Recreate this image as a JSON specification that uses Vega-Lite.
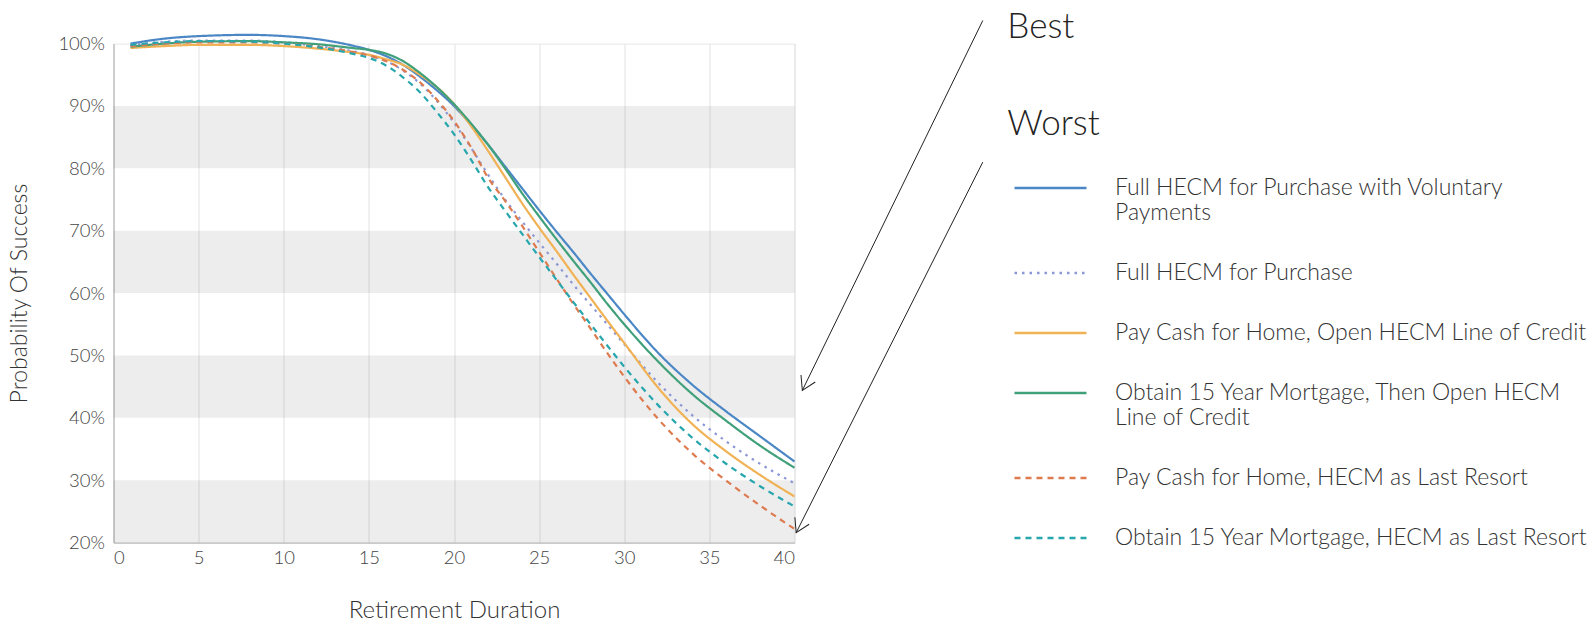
{
  "$schema": "https://vega.github.io/schema/vega-lite/v6.json",
  "width": 681,
  "height": 499,
  "autosize": {"type": "none"},
  "padding": {"left": 113.5, "top": 43.6, "right": 794.5, "bottom": 84.4},
  "background": "white",
  "config": {
    "font": "Lato",
    "view": {"stroke": "#e6e6e6", "strokeWidth": 1},
    "legend": {
      "orient": "none",
      "legendX": 899.5,
      "legendY": 107,
      "title": null,
      "labelFont": "Lato",
      "labelFontSize": 23,
      "labelFontWeight": 300,
      "labelColor": "#333333",
      "labelLimit": 600,
      "labelOffset": 27,
      "symbolType": "stroke",
      "symbolSize": 5184,
      "symbolStrokeWidth": 2.5,
      "rowPadding": 10
    }
  },
  "datasets": {
    "bands": [
      {"lo": 20, "hi": 30},
      {"lo": 40, "hi": 50},
      {"lo": 60, "hi": 70},
      {"lo": 80, "hi": 90}
    ],
    "curves": [
      {"s": "Full HECM for Purchase with Voluntary Payments", "x": 1, "v": 100.0},
      {"s": "Full HECM for Purchase with Voluntary Payments", "x": 3, "v": 100.8},
      {"s": "Full HECM for Purchase with Voluntary Payments", "x": 5, "v": 101.2},
      {"s": "Full HECM for Purchase with Voluntary Payments", "x": 8, "v": 101.4},
      {"s": "Full HECM for Purchase with Voluntary Payments", "x": 10, "v": 101.2},
      {"s": "Full HECM for Purchase with Voluntary Payments", "x": 12, "v": 100.7},
      {"s": "Full HECM for Purchase with Voluntary Payments", "x": 14, "v": 99.7},
      {"s": "Full HECM for Purchase with Voluntary Payments", "x": 15, "v": 99.0},
      {"s": "Full HECM for Purchase with Voluntary Payments", "x": 16, "v": 98.0},
      {"s": "Full HECM for Purchase with Voluntary Payments", "x": 17, "v": 96.6},
      {"s": "Full HECM for Purchase with Voluntary Payments", "x": 18, "v": 94.7},
      {"s": "Full HECM for Purchase with Voluntary Payments", "x": 19, "v": 92.5},
      {"s": "Full HECM for Purchase with Voluntary Payments", "x": 20, "v": 90.0},
      {"s": "Full HECM for Purchase with Voluntary Payments", "x": 21, "v": 87.0},
      {"s": "Full HECM for Purchase with Voluntary Payments", "x": 22, "v": 83.8},
      {"s": "Full HECM for Purchase with Voluntary Payments", "x": 23, "v": 80.3},
      {"s": "Full HECM for Purchase with Voluntary Payments", "x": 24, "v": 76.8},
      {"s": "Full HECM for Purchase with Voluntary Payments", "x": 25, "v": 73.3},
      {"s": "Full HECM for Purchase with Voluntary Payments", "x": 26, "v": 69.9},
      {"s": "Full HECM for Purchase with Voluntary Payments", "x": 27, "v": 66.6},
      {"s": "Full HECM for Purchase with Voluntary Payments", "x": 28, "v": 63.2},
      {"s": "Full HECM for Purchase with Voluntary Payments", "x": 29, "v": 59.9},
      {"s": "Full HECM for Purchase with Voluntary Payments", "x": 30, "v": 56.6},
      {"s": "Full HECM for Purchase with Voluntary Payments", "x": 32, "v": 50.4},
      {"s": "Full HECM for Purchase with Voluntary Payments", "x": 34, "v": 45.3},
      {"s": "Full HECM for Purchase with Voluntary Payments", "x": 36, "v": 41.0},
      {"s": "Full HECM for Purchase with Voluntary Payments", "x": 38, "v": 37.0},
      {"s": "Full HECM for Purchase with Voluntary Payments", "x": 40, "v": 33.0},

      {"s": "Full HECM for Purchase", "x": 1, "v": 99.8},
      {"s": "Full HECM for Purchase", "x": 3, "v": 100.3},
      {"s": "Full HECM for Purchase", "x": 5, "v": 100.5},
      {"s": "Full HECM for Purchase", "x": 8, "v": 100.5},
      {"s": "Full HECM for Purchase", "x": 10, "v": 100.2},
      {"s": "Full HECM for Purchase", "x": 12, "v": 99.6},
      {"s": "Full HECM for Purchase", "x": 14, "v": 98.8},
      {"s": "Full HECM for Purchase", "x": 15, "v": 98.2},
      {"s": "Full HECM for Purchase", "x": 16, "v": 97.2},
      {"s": "Full HECM for Purchase", "x": 17, "v": 95.7},
      {"s": "Full HECM for Purchase", "x": 18, "v": 93.6},
      {"s": "Full HECM for Purchase", "x": 19, "v": 90.8},
      {"s": "Full HECM for Purchase", "x": 20, "v": 87.3},
      {"s": "Full HECM for Purchase", "x": 21, "v": 83.3},
      {"s": "Full HECM for Purchase", "x": 22, "v": 79.0},
      {"s": "Full HECM for Purchase", "x": 23, "v": 75.0},
      {"s": "Full HECM for Purchase", "x": 24, "v": 71.5},
      {"s": "Full HECM for Purchase", "x": 25, "v": 68.1},
      {"s": "Full HECM for Purchase", "x": 26, "v": 64.8},
      {"s": "Full HECM for Purchase", "x": 27, "v": 61.4},
      {"s": "Full HECM for Purchase", "x": 28, "v": 58.2},
      {"s": "Full HECM for Purchase", "x": 29, "v": 55.0},
      {"s": "Full HECM for Purchase", "x": 30, "v": 51.8},
      {"s": "Full HECM for Purchase", "x": 32, "v": 45.6},
      {"s": "Full HECM for Purchase", "x": 34, "v": 40.4},
      {"s": "Full HECM for Purchase", "x": 36, "v": 36.2},
      {"s": "Full HECM for Purchase", "x": 38, "v": 32.6},
      {"s": "Full HECM for Purchase", "x": 40, "v": 29.5},

      {"s": "Pay Cash for Home, Open HECM Line of Credit", "x": 1, "v": 99.3},
      {"s": "Pay Cash for Home, Open HECM Line of Credit", "x": 3, "v": 99.6},
      {"s": "Pay Cash for Home, Open HECM Line of Credit", "x": 5, "v": 99.8},
      {"s": "Pay Cash for Home, Open HECM Line of Credit", "x": 8, "v": 99.8},
      {"s": "Pay Cash for Home, Open HECM Line of Credit", "x": 10, "v": 99.6},
      {"s": "Pay Cash for Home, Open HECM Line of Credit", "x": 12, "v": 99.2},
      {"s": "Pay Cash for Home, Open HECM Line of Credit", "x": 14, "v": 98.6},
      {"s": "Pay Cash for Home, Open HECM Line of Credit", "x": 15, "v": 98.2},
      {"s": "Pay Cash for Home, Open HECM Line of Credit", "x": 16, "v": 97.5},
      {"s": "Pay Cash for Home, Open HECM Line of Credit", "x": 17, "v": 96.6},
      {"s": "Pay Cash for Home, Open HECM Line of Credit", "x": 18, "v": 95.0},
      {"s": "Pay Cash for Home, Open HECM Line of Credit", "x": 19, "v": 93.0},
      {"s": "Pay Cash for Home, Open HECM Line of Credit", "x": 20, "v": 90.3},
      {"s": "Pay Cash for Home, Open HECM Line of Credit", "x": 21, "v": 86.8},
      {"s": "Pay Cash for Home, Open HECM Line of Credit", "x": 22, "v": 82.8},
      {"s": "Pay Cash for Home, Open HECM Line of Credit", "x": 23, "v": 78.6},
      {"s": "Pay Cash for Home, Open HECM Line of Credit", "x": 24, "v": 74.4},
      {"s": "Pay Cash for Home, Open HECM Line of Credit", "x": 25, "v": 70.5},
      {"s": "Pay Cash for Home, Open HECM Line of Credit", "x": 26, "v": 66.8},
      {"s": "Pay Cash for Home, Open HECM Line of Credit", "x": 27, "v": 63.0},
      {"s": "Pay Cash for Home, Open HECM Line of Credit", "x": 28, "v": 59.3},
      {"s": "Pay Cash for Home, Open HECM Line of Credit", "x": 29, "v": 55.6},
      {"s": "Pay Cash for Home, Open HECM Line of Credit", "x": 30, "v": 52.0},
      {"s": "Pay Cash for Home, Open HECM Line of Credit", "x": 32, "v": 44.8},
      {"s": "Pay Cash for Home, Open HECM Line of Credit", "x": 34, "v": 39.0},
      {"s": "Pay Cash for Home, Open HECM Line of Credit", "x": 36, "v": 34.6},
      {"s": "Pay Cash for Home, Open HECM Line of Credit", "x": 38, "v": 30.8},
      {"s": "Pay Cash for Home, Open HECM Line of Credit", "x": 40, "v": 27.4},

      {"s": "Obtain 15 Year Mortgage, Then Open HECM Line of Credit", "x": 1, "v": 99.5},
      {"s": "Obtain 15 Year Mortgage, Then Open HECM Line of Credit", "x": 3, "v": 100.0},
      {"s": "Obtain 15 Year Mortgage, Then Open HECM Line of Credit", "x": 5, "v": 100.3},
      {"s": "Obtain 15 Year Mortgage, Then Open HECM Line of Credit", "x": 8, "v": 100.4},
      {"s": "Obtain 15 Year Mortgage, Then Open HECM Line of Credit", "x": 10, "v": 100.2},
      {"s": "Obtain 15 Year Mortgage, Then Open HECM Line of Credit", "x": 12, "v": 99.9},
      {"s": "Obtain 15 Year Mortgage, Then Open HECM Line of Credit", "x": 14, "v": 99.3},
      {"s": "Obtain 15 Year Mortgage, Then Open HECM Line of Credit", "x": 15, "v": 99.0},
      {"s": "Obtain 15 Year Mortgage, Then Open HECM Line of Credit", "x": 16, "v": 98.4},
      {"s": "Obtain 15 Year Mortgage, Then Open HECM Line of Credit", "x": 17, "v": 97.2},
      {"s": "Obtain 15 Year Mortgage, Then Open HECM Line of Credit", "x": 18, "v": 95.3},
      {"s": "Obtain 15 Year Mortgage, Then Open HECM Line of Credit", "x": 19, "v": 93.0},
      {"s": "Obtain 15 Year Mortgage, Then Open HECM Line of Credit", "x": 20, "v": 90.3},
      {"s": "Obtain 15 Year Mortgage, Then Open HECM Line of Credit", "x": 21, "v": 87.2},
      {"s": "Obtain 15 Year Mortgage, Then Open HECM Line of Credit", "x": 22, "v": 83.8},
      {"s": "Obtain 15 Year Mortgage, Then Open HECM Line of Credit", "x": 23, "v": 80.0},
      {"s": "Obtain 15 Year Mortgage, Then Open HECM Line of Credit", "x": 24, "v": 76.0},
      {"s": "Obtain 15 Year Mortgage, Then Open HECM Line of Credit", "x": 25, "v": 72.3},
      {"s": "Obtain 15 Year Mortgage, Then Open HECM Line of Credit", "x": 26, "v": 68.7},
      {"s": "Obtain 15 Year Mortgage, Then Open HECM Line of Credit", "x": 27, "v": 65.2},
      {"s": "Obtain 15 Year Mortgage, Then Open HECM Line of Credit", "x": 28, "v": 61.8},
      {"s": "Obtain 15 Year Mortgage, Then Open HECM Line of Credit", "x": 29, "v": 58.3},
      {"s": "Obtain 15 Year Mortgage, Then Open HECM Line of Credit", "x": 30, "v": 55.0},
      {"s": "Obtain 15 Year Mortgage, Then Open HECM Line of Credit", "x": 32, "v": 49.0},
      {"s": "Obtain 15 Year Mortgage, Then Open HECM Line of Credit", "x": 34, "v": 43.8},
      {"s": "Obtain 15 Year Mortgage, Then Open HECM Line of Credit", "x": 36, "v": 39.5},
      {"s": "Obtain 15 Year Mortgage, Then Open HECM Line of Credit", "x": 38, "v": 35.5},
      {"s": "Obtain 15 Year Mortgage, Then Open HECM Line of Credit", "x": 40, "v": 32.0},

      {"s": "Pay Cash for Home, HECM as Last Resort", "x": 1, "v": 99.6},
      {"s": "Pay Cash for Home, HECM as Last Resort", "x": 3, "v": 100.0},
      {"s": "Pay Cash for Home, HECM as Last Resort", "x": 5, "v": 100.2},
      {"s": "Pay Cash for Home, HECM as Last Resort", "x": 8, "v": 100.2},
      {"s": "Pay Cash for Home, HECM as Last Resort", "x": 10, "v": 100.0},
      {"s": "Pay Cash for Home, HECM as Last Resort", "x": 12, "v": 99.5},
      {"s": "Pay Cash for Home, HECM as Last Resort", "x": 14, "v": 98.7},
      {"s": "Pay Cash for Home, HECM as Last Resort", "x": 15, "v": 98.1},
      {"s": "Pay Cash for Home, HECM as Last Resort", "x": 16, "v": 97.2},
      {"s": "Pay Cash for Home, HECM as Last Resort", "x": 17, "v": 95.8},
      {"s": "Pay Cash for Home, HECM as Last Resort", "x": 18, "v": 93.8},
      {"s": "Pay Cash for Home, HECM as Last Resort", "x": 19, "v": 91.0},
      {"s": "Pay Cash for Home, HECM as Last Resort", "x": 20, "v": 87.6},
      {"s": "Pay Cash for Home, HECM as Last Resort", "x": 21, "v": 83.4},
      {"s": "Pay Cash for Home, HECM as Last Resort", "x": 22, "v": 78.5},
      {"s": "Pay Cash for Home, HECM as Last Resort", "x": 23, "v": 74.8},
      {"s": "Pay Cash for Home, HECM as Last Resort", "x": 24, "v": 70.8},
      {"s": "Pay Cash for Home, HECM as Last Resort", "x": 25, "v": 66.6},
      {"s": "Pay Cash for Home, HECM as Last Resort", "x": 26, "v": 62.4},
      {"s": "Pay Cash for Home, HECM as Last Resort", "x": 27, "v": 58.3},
      {"s": "Pay Cash for Home, HECM as Last Resort", "x": 28, "v": 54.4},
      {"s": "Pay Cash for Home, HECM as Last Resort", "x": 29, "v": 50.4},
      {"s": "Pay Cash for Home, HECM as Last Resort", "x": 30, "v": 46.6},
      {"s": "Pay Cash for Home, HECM as Last Resort", "x": 32, "v": 39.8},
      {"s": "Pay Cash for Home, HECM as Last Resort", "x": 34, "v": 34.3},
      {"s": "Pay Cash for Home, HECM as Last Resort", "x": 36, "v": 29.9},
      {"s": "Pay Cash for Home, HECM as Last Resort", "x": 38, "v": 25.9},
      {"s": "Pay Cash for Home, HECM as Last Resort", "x": 40, "v": 22.2},

      {"s": "Obtain 15 Year Mortgage, HECM as Last Resort", "x": 1, "v": 99.8},
      {"s": "Obtain 15 Year Mortgage, HECM as Last Resort", "x": 3, "v": 100.2},
      {"s": "Obtain 15 Year Mortgage, HECM as Last Resort", "x": 5, "v": 100.4},
      {"s": "Obtain 15 Year Mortgage, HECM as Last Resort", "x": 8, "v": 100.3},
      {"s": "Obtain 15 Year Mortgage, HECM as Last Resort", "x": 10, "v": 100.0},
      {"s": "Obtain 15 Year Mortgage, HECM as Last Resort", "x": 12, "v": 99.4},
      {"s": "Obtain 15 Year Mortgage, HECM as Last Resort", "x": 14, "v": 98.4},
      {"s": "Obtain 15 Year Mortgage, HECM as Last Resort", "x": 15, "v": 97.7},
      {"s": "Obtain 15 Year Mortgage, HECM as Last Resort", "x": 16, "v": 96.5},
      {"s": "Obtain 15 Year Mortgage, HECM as Last Resort", "x": 17, "v": 94.6},
      {"s": "Obtain 15 Year Mortgage, HECM as Last Resort", "x": 18, "v": 92.2},
      {"s": "Obtain 15 Year Mortgage, HECM as Last Resort", "x": 19, "v": 89.0},
      {"s": "Obtain 15 Year Mortgage, HECM as Last Resort", "x": 20, "v": 85.5},
      {"s": "Obtain 15 Year Mortgage, HECM as Last Resort", "x": 21, "v": 81.4},
      {"s": "Obtain 15 Year Mortgage, HECM as Last Resort", "x": 22, "v": 77.0},
      {"s": "Obtain 15 Year Mortgage, HECM as Last Resort", "x": 23, "v": 73.2},
      {"s": "Obtain 15 Year Mortgage, HECM as Last Resort", "x": 24, "v": 69.5},
      {"s": "Obtain 15 Year Mortgage, HECM as Last Resort", "x": 25, "v": 65.8},
      {"s": "Obtain 15 Year Mortgage, HECM as Last Resort", "x": 26, "v": 62.2},
      {"s": "Obtain 15 Year Mortgage, HECM as Last Resort", "x": 27, "v": 58.6},
      {"s": "Obtain 15 Year Mortgage, HECM as Last Resort", "x": 28, "v": 55.1},
      {"s": "Obtain 15 Year Mortgage, HECM as Last Resort", "x": 29, "v": 51.6},
      {"s": "Obtain 15 Year Mortgage, HECM as Last Resort", "x": 30, "v": 48.2},
      {"s": "Obtain 15 Year Mortgage, HECM as Last Resort", "x": 32, "v": 42.0},
      {"s": "Obtain 15 Year Mortgage, HECM as Last Resort", "x": 34, "v": 36.8},
      {"s": "Obtain 15 Year Mortgage, HECM as Last Resort", "x": 36, "v": 32.6},
      {"s": "Obtain 15 Year Mortgage, HECM as Last Resort", "x": 38, "v": 29.0},
      {"s": "Obtain 15 Year Mortgage, HECM as Last Resort", "x": 40, "v": 25.8}
    ],
    "labels": [
      {"label": "Best", "x": 52.5, "y": 100.9},
      {"label": "Worst", "x": 52.5, "y": 85.4}
    ],
    "arrows": [
      {"x": 51.06, "y": 103.7, "x2": 40.46, "y2": 44.4},
      {"x": 51.06, "y": 81.0, "x2": 40.1, "y2": 21.6}
    ]
  },
  "layer": [
    {
      "data": {"name": "bands"},
      "mark": {"type": "rect", "fill": "#000000", "fillOpacity": 0.07},
      "encoding": {
        "x": {"datum": 0, "type": "quantitative", "scale": {"domain": [0, 40], "nice": false, "zero": false}},
        "x2": {"datum": 40},
        "y": {"field": "lo", "type": "quantitative", "scale": {"domain": [20, 100], "nice": false, "zero": false}},
        "y2": {"field": "hi"}
      }
    },
    {
      "data": {"name": "curves"},
      "mark": {"type": "line", "interpolate": "monotone", "strokeWidth": 2.2},
      "encoding": {
        "x": {
          "field": "x",
          "type": "quantitative",
          "scale": {"domain": [0, 40], "nice": false, "zero": false},
          "axis": {
            "values": [0, 5, 10, 15, 20, 25, 30, 35, 40],
            "title": "Retirement Duration",
            "grid": true,
            "gridColor": "#e2e2e2",
            "domainColor": "#b0b0b0",
            "ticks": false,
            "labelPadding": 6,
            "labelFont": "Lato",
            "labelFontSize": 18.5,
            "labelFontWeight": 300,
            "labelColor": "#444444",
            "titleFont": "Lato",
            "titleFontSize": 24,
            "titleFontWeight": 300,
            "titleColor": "#333333",
            "titlePadding": 31
          }
        },
        "y": {
          "field": "v",
          "type": "quantitative",
          "scale": {"domain": [20, 100], "nice": false, "zero": false},
          "axis": {
            "values": [20, 30, 40, 50, 60, 70, 80, 90, 100],
            "labelExpr": "datum.value + '%'",
            "title": "Probability Of Success",
            "grid": false,
            "domainColor": "#b0b0b0",
            "ticks": false,
            "labelPadding": 9,
            "labelFont": "Lato",
            "labelFontSize": 18.5,
            "labelFontWeight": 300,
            "labelColor": "#444444",
            "titleFont": "Lato",
            "titleFontSize": 23,
            "titleFontWeight": 300,
            "titleColor": "#333333",
            "titlePadding": 26
          }
        },
        "color": {
          "field": "s",
          "type": "nominal",
          "sort": null,
          "scale": {
            "domain": [
              "Full HECM for Purchase with Voluntary Payments",
              "Full HECM for Purchase",
              "Pay Cash for Home, Open HECM Line of Credit",
              "Obtain 15 Year Mortgage, Then Open HECM Line of Credit",
              "Pay Cash for Home, HECM as Last Resort",
              "Obtain 15 Year Mortgage, HECM as Last Resort"
            ],
            "range": ["#4b87c5", "#8c97d6", "#f0b255", "#40a07a", "#dd7b4f", "#27a6ad"]
          },
          "legend": {
            "labelExpr": "datum.label == 'Full HECM for Purchase with Voluntary Payments' ? ['Full HECM for Purchase with Voluntary', 'Payments'] : datum.label == 'Obtain 15 Year Mortgage, Then Open HECM Line of Credit' ? ['Obtain 15 Year Mortgage, Then Open HECM', 'Line of Credit'] : datum.label"
          }
        },
        "strokeDash": {
          "field": "s",
          "type": "nominal",
          "sort": null,
          "scale": {
            "domain": [
              "Full HECM for Purchase with Voluntary Payments",
              "Full HECM for Purchase",
              "Pay Cash for Home, Open HECM Line of Credit",
              "Obtain 15 Year Mortgage, Then Open HECM Line of Credit",
              "Pay Cash for Home, HECM as Last Resort",
              "Obtain 15 Year Mortgage, HECM as Last Resort"
            ],
            "range": [[1, 0], [2.5, 5], [1, 0], [1, 0], [6, 5], [6, 5]]
          },
          "legend": {
            "labelExpr": "datum.label == 'Full HECM for Purchase with Voluntary Payments' ? ['Full HECM for Purchase with Voluntary', 'Payments'] : datum.label == 'Obtain 15 Year Mortgage, Then Open HECM Line of Credit' ? ['Obtain 15 Year Mortgage, Then Open HECM', 'Line of Credit'] : datum.label"
          }
        }
      }
    },
    {
      "data": {"name": "arrows"},
      "mark": {"type": "rule", "color": "#222222", "strokeWidth": 1},
      "encoding": {
        "x": {"field": "x", "type": "quantitative", "scale": {"domain": [0, 40], "nice": false, "zero": false}},
        "y": {"field": "y", "type": "quantitative", "scale": {"domain": [20, 100], "nice": false, "zero": false}},
        "x2": {"field": "x2"},
        "y2": {"field": "y2"}
      }
    },
    {
      "data": {"name": "arrows"},
      "mark": {"type": "point", "shape": "M-0.6,-1L0,0L0.6,-1", "filled": false, "size": 700, "angle": 26, "stroke": "#222222", "strokeWidth": 1, "opacity": 1},
      "encoding": {
        "x": {"field": "x2", "type": "quantitative", "scale": {"domain": [0, 40], "nice": false, "zero": false}},
        "y": {"field": "y2", "type": "quantitative", "scale": {"domain": [20, 100], "nice": false, "zero": false}}
      }
    },
    {
      "data": {"name": "labels"},
      "mark": {"type": "text", "align": "left", "baseline": "alphabetic", "font": "Lato", "fontSize": 35, "fontWeight": 300, "color": "#222222"},
      "encoding": {
        "x": {"field": "x", "type": "quantitative", "scale": {"domain": [0, 40], "nice": false, "zero": false}},
        "y": {"field": "y", "type": "quantitative", "scale": {"domain": [20, 100], "nice": false, "zero": false}},
        "text": {"field": "label"}
      }
    }
  ]
}
